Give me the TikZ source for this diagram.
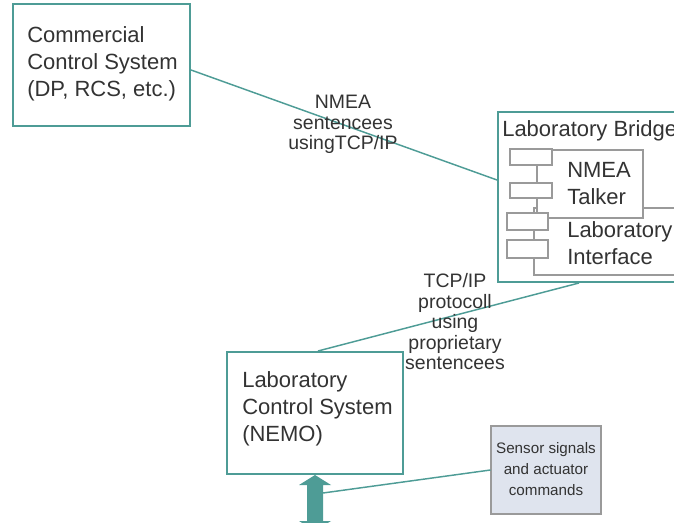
\documentclass[tikz,border=0pt]{standalone}
\usepackage{fontspec}
\setmainfont{Liberation Sans}
\usetikzlibrary{calc}
\definecolor{tealc}{HTML}{4E9C96}
\definecolor{txtc}{HTML}{333333}
\definecolor{grayl}{HTML}{9A9A9A}
\definecolor{sensfill}{HTML}{DFE4EE}
\begin{document}
\begin{tikzpicture}[x=0.75pt,y=-0.75pt,
  tbox/.style={draw=tealc, line width=1.5pt, fill=white, inner sep=0pt},
  bigtext/.style={text=txtc, font=\fontsize{16.5pt}{20.25pt}\selectfont, align=left, inner sep=0pt, anchor=base west},
  lbl/.style={text=txtc, font=\fontsize{14.6pt}{15.4pt}\selectfont, align=center, inner sep=0pt, anchor=base},
  conn/.style={draw=tealc, line width=1.1pt},
  comp/.style={draw=grayl, line width=0.8pt, fill=white},
  sbox/.style={draw=grayl, line width=0.8pt, fill=sensfill, inner sep=0pt},
  arr/.style={fill=tealc}]
\useasboundingbox (0,0) rectangle (674,523);
\clip (0,0) rectangle (674,523);

% boxes
\node[tbox, minimum width=132.75pt, minimum height=91.5pt] (ccs) at (101.5,65) {};
\node[tbox, minimum width=166.5pt, minimum height=127.5pt] (bridge) at (609,197) {};
\node[tbox, minimum width=132pt, minimum height=91.5pt] (lcs) at (315,413) {};
\node[sbox, minimum width=82.5pt, minimum height=66pt] (sensor) at (546,470) {};

% texts (anchor base = baseline of last line)
\node[bigtext] (ccsT) at (27,97) {Commercial\\Control System\\(DP, RCS, etc.)};
\node[bigtext] (lcsT) at (242,441) {Laboratory\\Control System\\(NEMO)};
\node[bigtext] (bridgeT) at (502,137) {Laboratory Bridge};
\node[text=txtc, font=\fontsize{11.4pt}{15.75pt}\selectfont, align=center, inner sep=0pt] (sensorT) at ($(sensor.center)+(0,-1)$) {Sensor signals\\and actuator\\commands};

% components inside bridge
\draw[comp, fill=none] (534,208) rectangle (700,275);
\draw[comp] (537,150) rectangle (643,218);
\draw[comp] (510,149) rectangle (552,165);
\draw[comp] (510,183) rectangle (552,198);
\draw[comp] (507,213) rectangle (548,230);
\draw[comp] (507,240) rectangle (548,258);
\node[bigtext] (nmeaT) at (567,205) {NMEA\\Talker};
\node[bigtext] (liT) at (567,265) {Laboratory\\Interface};

% connectors
\draw[conn] ($(ccs.east)+(0,5)$) -- ($(bridge.west)+(0,-17)$);
\draw[conn] ($(lcs.north)+(3,0)$) -- ($(bridge.south west)+(82,0)$);
\node[lbl] (l1) at (343,150) {NMEA\\sentencees\\usingTCP/IP};
\node[lbl] (l2) at (455,370) {TCP/IP\\protocoll\\using\\proprietary\\sentencees};

% thick double arrow
\fill[arr] (lcs.south) -- ++(16,10) -- ++(-8,0) -- ++(0,36) -- ++(8,0) -- ++(-16,10) -- ++(-16,-10) -- ++(8,0) -- ++(0,-36) -- ++(-8,0) -- cycle;
\coordinate (shaftR) at ($(lcs.south)+(8,18)$);
\draw[conn] (sensor.west) -- (shaftR);
\end{tikzpicture}
\end{document}
